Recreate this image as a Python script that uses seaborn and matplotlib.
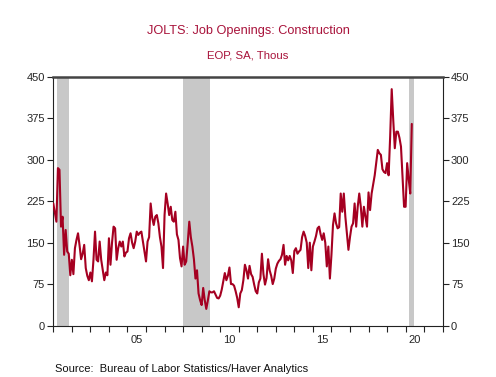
import numpy as np
import pandas as pd
import matplotlib
matplotlib.use("Agg")
import matplotlib.pyplot as plt
import seaborn as sns

# Monthly values, Jan 2001 .. May 2020 (thousands)
y2001 = [221, 205, 188, 285, 282, 179, 197, 128, 173, 134, 130, 91]
y2002 = [119, 93, 140, 155, 167, 145, 120, 130, 146, 104, 90, 82]
y2003 = [96, 80, 119, 170, 119, 116, 152, 119, 100, 82, 96, 91]
y2004 = [158, 110, 150, 179, 176, 119, 140, 152, 143, 152, 125, 132]
y2005 = [134, 158, 167, 150, 140, 152, 170, 164, 168, 170, 152, 135]
y2006 = [116, 152, 160, 221, 195, 182, 197, 200, 185, 160, 143, 104]
y2007 = [200, 239, 221, 200, 215, 191, 188, 206, 165, 155, 122, 107]
y2008 = [143, 110, 116, 150, 188, 160, 143, 120, 85, 100, 58, 46]
y2009 = [37, 68, 46, 30, 45, 62, 60, 60, 62, 56, 50, 49]
y2010 = [54, 65, 80, 95, 82, 90, 105, 75, 75, 72, 62, 50]
y2011 = [33, 58, 64, 82, 110, 100, 85, 108, 93, 88, 74, 62]
y2012 = [58, 78, 85, 130, 93, 74, 86, 120, 100, 90, 75, 85]
y2013 = [103, 112, 117, 120, 128, 146, 110, 126, 118, 126, 118, 95]
y2014 = [135, 140, 130, 134, 137, 160, 170, 162, 150, 104, 150, 100]
y2015 = [143, 152, 162, 176, 179, 165, 155, 167, 150, 107, 143, 85]
y2016 = [128, 182, 203, 185, 176, 178, 239, 206, 239, 197, 167, 137]
y2017 = [160, 179, 185, 221, 179, 215, 239, 215, 179, 215, 197, 179]
y2018 = [241, 209, 239, 255, 272, 295, 318, 312, 309, 283, 278, 276]
y2019 = [294, 272, 342, 428, 372, 321, 351, 351, 340, 324, 270, 215]
y2020 = [215, 294, 265, 239, 365]

values = (y2001 + y2002 + y2003 + y2004 + y2005 + y2006 + y2007 + y2008 + y2009 +
          y2010 + y2011 + y2012 + y2013 + y2014 + y2015 + y2016 + y2017 + y2018 +
          y2019 + y2020)
dates = 2001 + np.arange(len(values)) / 12.0

recessions = [(2001.18, 2001.85), (2007.98, 2009.45), (2020.17, 2020.46)]
yticks = [0, 75, 150, 225, 300, 375, 450]
year_labels = {2005: "05", 2010: "10", 2015: "15", 2020: "20"}

df = pd.DataFrame({"date": dates, "value": values})

sns.set_style("white")
plt.rcParams["font.family"] = ["Liberation Sans", "DejaVu Sans"]

fig = plt.figure(figsize=(4.96, 3.77), dpi=100)
ax = fig.add_axes([53.3 / 496, 1 - 325.5 / 377, (442.7 - 53.3) / 496, (325.5 - 77) / 377])

for a, b in recessions:
    ax.axvspan(a, b, color="#c8c8c8", lw=0, zorder=0)

sns.lineplot(data=df, x="date", y="value", ax=ax, color="#a50021", lw=1.5, zorder=3)

ax.set_xlim(2001, 2022)
ax.set_ylim(0, 450)
ax.set_xlabel("")
ax.set_ylabel("")

ax.set_xticks(np.arange(2001, 2023))
ax.set_xticklabels([])
ax.set_xticks([y + 0.5 for y in year_labels], minor=True)
ax.set_xticklabels(list(year_labels.values()), minor=True)
ax.tick_params(axis="x", which="major", direction="out", length=4, width=0.8, color="#222222", bottom=True)
ax.tick_params(axis="x", which="minor", length=0, labelsize=8, pad=7)

ax.set_yticks(yticks)
ax.set_yticklabels([str(t) for t in yticks])
ax.tick_params(axis="y", direction="out", length=4, width=0.8, color="#222222",
               left=True, right=True, labelleft=True, labelright=True, labelsize=8, pad=2)

for s in ["left", "right", "bottom"]:
    ax.spines[s].set_visible(True)
    ax.spines[s].set_color("#222222")
    ax.spines[s].set_linewidth(0.8)
ax.spines["top"].set_visible(True)
ax.spines["top"].set_color("#444444")
ax.spines["top"].set_linewidth(1.8)

title_color = "#a8123a"
fig.text(248 / 496, 1 - 31 / 377, "JOLTS: Job Openings: Construction", ha="center", va="center",
         fontsize=9.2, color=title_color)
fig.text(248 / 496, 1 - 55 / 377, "EOP, SA, Thous", ha="center", va="center",
         fontsize=8.2, color=title_color)
fig.text(55 / 496, 1 - 369 / 377, "Source:  Bureau of Labor Statistics/Haver Analytics",
         ha="left", va="center", fontsize=8, color="#111111")

fig.savefig("out.png", dpi=100)
